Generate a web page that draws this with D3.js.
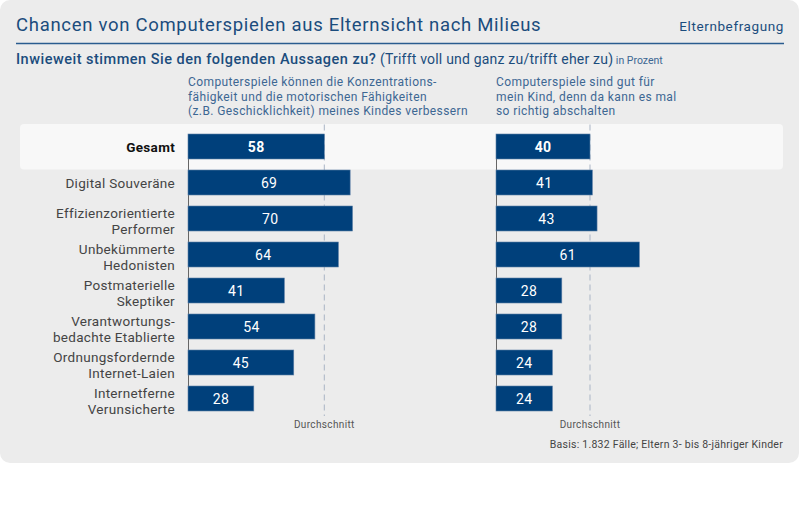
<!DOCTYPE html>
<html>
<head>
<meta charset="utf-8">
<script src="https://cdn.jsdelivr.net/npm/d3@7"></script>
<style>
  body { margin: 0; background: #fff; }
  svg { display: block; font-family: Roboto, "DejaVu Sans", sans-serif; }
</style>
</head>
<body>
<svg id="chart"></svg>
<script>
// Data (in Prozent)
const milieus = [
  "Gesamt",
  "Digital Souveräne",
  "Effizienzorientierte\nPerformer",
  "Unbekümmerte\nHedonisten",
  "Postmaterielle\nSkeptiker",
  "Verantwortungs-\nbedachte Etablierte",
  "Ordnungsfordernde\nInternet-Laien",
  "Internetferne\nVerunsicherte"
];
const konzentration = [58, 69, 70, 64, 41, 54, 45, 28];
const abschalten = [40, 41, 43, 61, 28, 28, 24, 24];

const headerKonzentration = [
  "Computerspiele können die Konzentrations-",
  "fähigkeit und die motorischen Fähigkeiten",
  "(z.B. Geschicklichkeit) meines Kindes verbessern"
];
const headerAbschalten = [
  "Computerspiele sind gut für",
  "mein Kind, denn da kann es mal",
  "so richtig abschalten"
];

const titleText = "Chancen von Computerspielen aus Elternsicht nach Milieus";
const sourceText = "Elternbefragung";
const questionText = "Inwieweit stimmen Sie den folgenden Aussagen zu?";
const answerText = " (Trifft voll und ganz zu/trifft eher zu)";
const unitText = " in Prozent";
const averageLabel = "Durchschnitt";
const basisText = "Basis: 1.832 Fälle; Eltern 3- bis 8-jähriger Kinder";

const W = 800, H = 514;
const blue = "#1b4c7d", lightBlue = "#3d6793", barBlue = "#00407b";

const svg = d3.select("#chart").attr("width", W).attr("height", H);

// panel background
svg.append("rect")
    .attr("x", 0).attr("y", 0)
    .attr("width", 799).attr("height", 463)
    .attr("rx", 10)
    .attr("fill", "#ececec");

// title + source
svg.append("text")
    .attr("x", 16).attr("y", 31)
    .attr("font-size", 18.5)
    .attr("letter-spacing", 0.7)
    .attr("fill", blue)
    .text(titleText);

svg.append("text")
    .attr("x", 784).attr("y", 31)
    .attr("text-anchor", "end")
    .attr("font-size", 13.5)
    .attr("letter-spacing", 0.6)
    .attr("fill", blue)
    .text(sourceText);

svg.append("line")
    .attr("x1", 16).attr("x2", 784)
    .attr("y1", 43.5).attr("y2", 43.5)
    .attr("stroke", "#2a5c8f")
    .attr("stroke-width", 1.3);

// question line
const q = svg.append("text")
    .attr("x", 16).attr("y", 64)
    .attr("fill", blue);
q.append("tspan").attr("font-size", 14.5).attr("font-weight", 500)
    .attr("letter-spacing", 0.5).text(questionText);
q.append("tspan").attr("font-size", 14).attr("letter-spacing", 0.2).text(answerText);
q.append("tspan").attr("font-size", 10.5).attr("fill", lightBlue).text(unitText);

// scales
const y = d3.scaleBand()
    .domain(milieus)
    .range([128.5, 128.5 + 36 * milieus.length])
    .paddingInner(11 / 36)
    .paddingOuter(5.5 / 36);

const x = d3.scaleLinear()
    .domain([0, 100])
    .range([0, 235]);

// highlight band for Gesamt
svg.append("rect")
    .attr("x", 20).attr("width", 763)
    .attr("y", y("Gesamt") - 10).attr("height", y.bandwidth() + 20.5)
    .attr("rx", 4)
    .attr("fill", "#f8f8f8");

// milieu labels
const lineH = 16;
const labels = svg.append("g")
    .attr("font-size", 13.5)
    .attr("letter-spacing", 0.3)
    .attr("text-anchor", "end");

milieus.forEach((m, i) => {
  const lines = m.split("\n");
  const cy = y(m) + y.bandwidth() / 2;
  const t = labels.append("text")
      .attr("x", 175)
      .attr("y", lines.length === 1 ? cy + 5 : cy - 0.5)
      .attr("fill", i === 0 ? "#111" : "#444")
      .attr("font-weight", i === 0 ? 700 : 400);
  lines.forEach((l, j) => {
    t.append("tspan")
        .attr("x", 175)
        .attr("dy", j === 0 ? 0 : lineH)
        .text(l);
  });
});

// one panel per statement
function drawPanel(x0, header, values) {
  const g = svg.append("g").attr("transform", `translate(${x0},0)`);

  g.append("g")
      .attr("font-size", 12)
      .attr("letter-spacing", 0.4)
      .attr("fill", lightBlue)
    .selectAll("text")
    .data(header)
    .join("text")
      .attr("x", 0)
      .attr("y", (d, i) => 86 + i * 14.5)
      .text(d => d);

  const avg = values[0];
  const yTop = y.range()[0];
  const yBot = y(milieus[milieus.length - 1]) + y.bandwidth();

  // average line
  g.append("line")
      .attr("x1", x(avg)).attr("x2", x(avg))
      .attr("y1", yTop - 4).attr("y2", yBot + 5)
      .attr("stroke", "#a9b4c5")
      .attr("stroke-dasharray", "6,4");

  g.append("text")
      .attr("x", x(avg)).attr("y", 428)
      .attr("text-anchor", "middle")
      .attr("font-size", 10)
      .attr("letter-spacing", 0.35)
      .attr("fill", "#555")
      .text(averageLabel);

  // baseline
  g.append("line")
      .attr("x1", 0.5).attr("x2", 0.5)
      .attr("y1", y(milieus[0])).attr("y2", yBot)
      .attr("stroke", "#666");

  // bars
  g.selectAll(".bar")
    .data(values)
    .join("rect")
      .attr("class", "bar")
      .attr("x", 0)
      .attr("y", (d, i) => y(milieus[i]))
      .attr("width", d => x(d))
      .attr("height", y.bandwidth())
      .attr("fill", barBlue)
      .attr("stroke", "#5d7fa6")
      .attr("stroke-width", 0.6);

  g.selectAll(".val")
    .data(values)
    .join("text")
      .attr("class", "val")
      .attr("x", d => x(d) / 2)
      .attr("y", (d, i) => y(milieus[i]) + y.bandwidth() / 2 + 5)
      .attr("text-anchor", "middle")
      .attr("font-size", 14)
      .attr("letter-spacing", 0.3)
      .attr("font-weight", (d, i) => i === 0 ? 700 : 400)
      .attr("fill", "#fff")
      .text(d => d);
}

drawPanel(188, headerKonzentration, konzentration);
drawPanel(496, headerAbschalten, abschalten);

svg.append("text")
    .attr("x", 783).attr("y", 448)
    .attr("text-anchor", "end")
    .attr("font-size", 10.5)
    .attr("letter-spacing", 0.25)
    .attr("fill", "#444")
    .text(basisText);
</script>
</body>
</html>
